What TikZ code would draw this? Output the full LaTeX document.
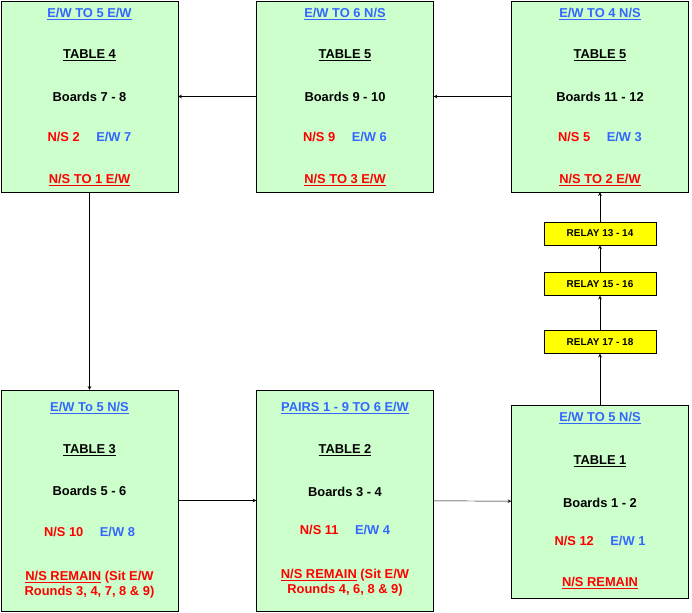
\documentclass[tikz,border=0pt]{standalone}
\usepackage{fontspec}
\setmainfont{Liberation Sans}
\usetikzlibrary{positioning}
\definecolor{tabgreen}{RGB}{204,255,204}
\definecolor{relayyellow}{RGB}{255,255,0}
\definecolor{ewblue}{RGB}{51,102,255}
\definecolor{nsred}{RGB}{255,0,0}
\tikzset{
  tablebox/.style={draw, fill=tabgreen, minimum width=177*0.03cm, inner sep=0pt},
  relaybox/.style={draw, fill=relayyellow, minimum width=112*0.03cm, minimum height=23*0.03cm, inner sep=0pt, font=\fontsize{8.5}{10}\selectfont\bfseries},
  txt/.style={font=\fontsize{11}{13}\selectfont\bfseries, align=center, inner sep=0pt}
}
\newcommand{\ul}[1]{\underline{#1}}
\begin{document}
\begin{tikzpicture}[>=stealth, x=0.03cm, y=-0.03cm]
\useasboundingbox (0,0) rectangle (692,613);

% --- Tables ---
\node[tablebox, minimum height=191*0.03cm] (t4) at (89.5,96.5) {};
\node[tablebox, minimum height=191*0.03cm] (t5a) at (345,96.5) {};
\node[tablebox, minimum height=191*0.03cm] (t5b) at (600,96.5) {};
\node[tablebox, minimum height=221*0.03cm] (t3) at (89.5,500.5) {};
\node[tablebox, minimum height=221*0.03cm] (t2) at (345,500.5) {};
\node[tablebox, minimum height=193*0.03cm] (t1) at (600,501.5) {};

% --- Relais ---
\node[relaybox] (r13) at (600,233.5) {RELAY  13 - 14};
\node[relaybox] (r15) at (600,284) {RELAY  15 - 16};
\node[relaybox] (r17) at (600,342) {RELAY  17 - 18};

% --- Textes table 4 ---
\node[txt, text=ewblue] (t4a) at (89.5,14) {\ul{E/W TO 5 E/W}};
\node[txt] (t4b) at (89.5,55) {\ul{TABLE  4}};
\node[txt] (t4c) at (89.5,97) {Boards 7  -   8};
\node[txt] (t4d) at (89.5,137) {\textcolor{nsred}{N/S 2}\quad\ \textcolor{ewblue}{E/W 7}};
\node[txt, text=nsred] (t4e) at (89.5,180) {\ul{N/S TO 1 E/W}};

% --- Textes table 5 (milieu) ---
\node[txt, text=ewblue] (t5aa) at (345,14) {\ul{E/W TO 6 N/S}};
\node[txt] (t5ab) at (345,55) {\ul{TABLE  5}};
\node[txt] (t5ac) at (345,97) {Boards 9  - 10};
\node[txt] (t5ad) at (345,137) {\textcolor{nsred}{N/S 9}\quad\ \textcolor{ewblue}{E/W 6}};
\node[txt, text=nsred] (t5ae) at (345,180) {\ul{N/S TO 3 E/W}};

% --- Textes table 5 (droite) ---
\node[txt, text=ewblue] (t5ba) at (600,14) {\ul{E/W TO 4 N/S}};
\node[txt] (t5bb) at (600,55) {\ul{TABLE  5}};
\node[txt] (t5bc) at (600,97) {Boards 11  - 12};
\node[txt] (t5bd) at (600,137) {\textcolor{nsred}{N/S 5}\quad\ \textcolor{ewblue}{E/W 3}};
\node[txt, text=nsred] (t5be) at (600,180) {\ul{N/S TO 2 E/W}};

% --- Textes table 3 ---
\node[txt, text=ewblue] (t3a) at (89.5,408) {\ul{E/W To 5 N/S}};
\node[txt] (t3b) at (89.5,450) {\ul{TABLE  3}};
\node[txt] (t3c) at (89.5,491) {Boards 5  -   6};
\node[txt] (t3d) at (89.5,532) {\textcolor{nsred}{N/S 10}\quad\ \textcolor{ewblue}{E/W 8}};
\node[txt, text=nsred] (t3e) at (89.5,585) {\ul{N/S REMAIN} (Sit E/W\\Rounds 3, 4, 7, 8 \& 9)};

% --- Textes table 2 ---
\node[txt, text=ewblue] (t2a) at (345,408) {\ul{PAIRS 1 - 9 TO 6 E/W}};
\node[txt] (t2b) at (345,450) {\ul{TABLE  2}};
\node[txt] (t2c) at (345,492) {Boards 3  -   4};
\node[txt] (t2d) at (345,530) {\textcolor{nsred}{N/S 11}\quad\ \textcolor{ewblue}{E/W 4}};
\node[txt, text=nsred] (t2e) at (345,583) {\ul{N/S REMAIN} (Sit E/W\\Rounds 4, 6, 8 \& 9)};

% --- Textes table 1 ---
\node[txt, text=ewblue] (t1a) at (600,418) {\ul{E/W TO 5 N/S}};
\node[txt] (t1b) at (600,461) {\ul{TABLE  1}};
\node[txt] (t1c) at (600,503) {Boards 1 - 2};
\node[txt] (t1d) at (600,541) {\textcolor{nsred}{N/S 12}\quad\ \textcolor{ewblue}{E/W 1}};
\node[txt, text=nsred] (t1e) at (600,583) {\ul{N/S REMAIN}};

% --- Fleches ---
\draw[->] (t5b) -- (t5a);
\draw[->] (t5a) -- (t4);
\draw[->] (t4) -- (t3);
\draw[->] (t3) -- (t2);
\draw[->] (t2) -- (t1);
\draw[->] (t1) -- (r17);
\draw[->] (r17) -- (r15);
\draw[->] (r15) -- (r13);
\draw[->] (r13) -- (t5b);

\end{tikzpicture}
\end{document}
